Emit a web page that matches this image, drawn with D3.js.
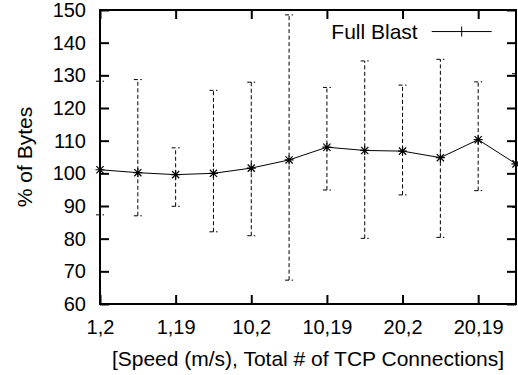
<!DOCTYPE html>
<html>
<head>
<meta charset="utf-8">
<script src="https://cdn.jsdelivr.net/npm/d3@7"></script>
<style>
  html, body { margin: 0; padding: 0; background: #fff; }
  svg { display: block; }
  text { font-family: "Liberation Sans", Arial, Helvetica, sans-serif; fill: #000; }
</style>
</head>
<body>
<svg id="chart" width="518" height="375"></svg>
<script>
// Full Blast: % of bytes per (speed, connections) setting, with min/max error bars
const positions = [0, 1, 2, 3, 4, 5, 6, 7, 8, 9, 10, 11];
const values  = [101.1, 100.2, 99.6, 100.0, 101.6, 104.1, 108.0, 107.0, 106.8, 104.8, 110.3, 102.9];
const errLow  = [87.3, 87.0, 89.9, 82.1, 80.9, 67.3, 94.9, 80.1, 93.4, 80.4, 94.7, 89.6];
const errHigh = [128.2, 128.7, 107.8, 125.4, 127.9, 148.5, 126.3, 134.4, 127.0, 134.9, 128.0, 130.5];
const tickPos = [0, 2, 4, 6, 8, 10];
const tickLabels = ["1,2", "1,19", "10,2", "10,19", "20,2", "20,19"];
const yTicks = [60, 70, 80, 90, 100, 110, 120, 130, 140, 150];

const W = 518, H = 375;
const M = { top: 10, right: 2, bottom: 71, left: 100 };
const PW = W - M.left - M.right;
const PH = H - M.top - M.bottom;
const TICK_FONT = "20px";
const TITLE_FONT = "21px";

const svg = d3.select("#chart");
const g = svg.append("g").attr("transform", `translate(${M.left},${M.top})`);

const x = d3.scaleLinear().domain([0, 11]).range([0, PW]);
const y = d3.scaleLinear().domain([60, 150]).range([PH, 0]);

// ticks, inward on all four sides (gnuplot mirror style)
const TL = 9;
const tickFmt = i => tickLabels[tickPos.indexOf(i)];
g.append("g").attr("transform", `translate(0,${PH})`)
  .call(d3.axisBottom(x).tickValues(tickPos).tickFormat(tickFmt).tickSizeInner(-TL).tickSizeOuter(0).tickPadding(16))
  .call(ax => ax.select(".domain").remove())
  .call(ax => ax.selectAll(".tick line").attr("stroke", "#000").attr("stroke-width", 2))
  .call(ax => ax.selectAll(".tick text").attr("font-size", TICK_FONT).attr("font-family", null).attr("fill", "#000"));
g.append("g")
  .call(d3.axisTop(x).tickValues(tickPos).tickFormat("").tickSizeInner(-TL).tickSizeOuter(0))
  .call(ax => ax.select(".domain").remove())
  .call(ax => ax.selectAll(".tick line").attr("stroke", "#000").attr("stroke-width", 2));
g.append("g")
  .call(d3.axisLeft(y).tickValues(yTicks).tickFormat(d3.format("d")).tickSizeInner(-TL).tickSizeOuter(0).tickPadding(14))
  .call(ax => ax.select(".domain").remove())
  .call(ax => ax.selectAll(".tick line").attr("stroke", "#000").attr("stroke-width", 2))
  .call(ax => ax.selectAll(".tick text").attr("font-size", TICK_FONT).attr("font-family", null).attr("fill", "#000"));
g.append("g").attr("transform", `translate(${PW},0)`)
  .call(d3.axisRight(y).tickValues(yTicks).tickFormat("").tickSizeInner(-TL).tickSizeOuter(0))
  .call(ax => ax.select(".domain").remove())
  .call(ax => ax.selectAll(".tick line").attr("stroke", "#000").attr("stroke-width", 2));

// error bars (dashed)
const CAP = 4;
const bars = g.append("g").attr("stroke", "#000").attr("stroke-width", 1)
  .attr("stroke-dasharray", "4,2.5").attr("fill", "none");
positions.forEach((p, i) => {
  const cx = x(p);
  bars.append("line").attr("x1", cx).attr("x2", cx).attr("y1", y(errLow[i])).attr("y2", y(errHigh[i]));
  bars.append("line").attr("x1", cx - CAP).attr("x2", cx + CAP).attr("y1", y(errLow[i])).attr("y2", y(errLow[i]));
  bars.append("line").attr("x1", cx - CAP).attr("x2", cx + CAP).attr("y1", y(errHigh[i])).attr("y2", y(errHigh[i]));
});

// connecting line
const line = d3.line().x((d, i) => x(positions[i])).y(d => y(d));
g.append("path").datum(values).attr("d", line)
  .attr("fill", "none").attr("stroke", "#000").attr("stroke-width", 1);

// star markers
const S = 4.5;
const starPath = `M${-S},0H${S}M0,${-S}V${S}M${-S * 0.8},${-S * 0.8}L${S * 0.8},${S * 0.8}M${-S * 0.8},${S * 0.8}L${S * 0.8},${-S * 0.8}`;
g.append("g").selectAll("path").data(values).join("path")
  .attr("transform", (d, i) => `translate(${x(positions[i])},${y(d)})`)
  .attr("d", starPath).attr("stroke", "#000").attr("stroke-width", 1.2).attr("fill", "none");

// frame
g.append("rect").attr("width", PW).attr("height", PH)
  .attr("fill", "none").attr("stroke", "#000").attr("stroke-width", 2);

// legend
const leg = g.append("g").attr("transform", `translate(${x(8.4)},${y(143.4)})`);
leg.append("text").attr("x", 0).attr("y", 0).attr("dy", "0.35em")
  .attr("text-anchor", "end").attr("font-size", TITLE_FONT).text("Full Blast");
leg.append("line").attr("x1", 14).attr("x2", 74).attr("y1", 0).attr("y2", 0)
  .attr("stroke", "#000").attr("stroke-width", 1);
leg.append("line").attr("x1", 44).attr("x2", 44).attr("y1", -5).attr("y2", 5)
  .attr("stroke", "#000").attr("stroke-width", 1);

// axis titles
svg.append("text").attr("x", M.left + PW / 2).attr("y", 366)
  .attr("text-anchor", "middle").attr("font-size", TITLE_FONT)
  .text("[Speed (m/s), Total # of TCP Connections]");
svg.append("text").attr("transform", `translate(32,${M.top + PH / 2}) rotate(-90)`)
  .attr("text-anchor", "middle").attr("font-size", TITLE_FONT).text("% of Bytes");
</script>
</body>
</html>
